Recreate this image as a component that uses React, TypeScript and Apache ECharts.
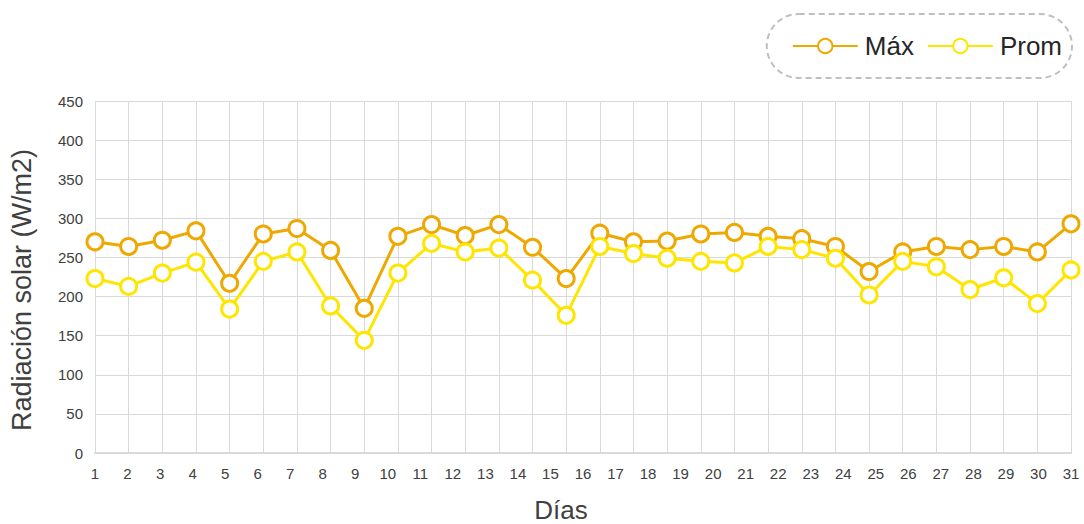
import React, { useEffect, useRef } from "react";
import * as echarts from "echarts";

const dayLabels = [
  "1", "2", "3", "4", "5", "6", "7", "8", "9", "10", "11", "12", "13", "14", "15", "16",
  "17", "18", "19", "20", "21", "22", "23", "24", "25", "26", "27", "28", "29", "30", "31",
];
const pointSlots = [
  "p1", "p2", "p3", "p4", "p5", "p6", "p7", "p8", "p9", "p10", "p11", "p12", "p13", "p14", "p15",
  "p16", "p17", "p18", "p19", "p20", "p21", "p22", "p23", "p24", "p25", "p26", "p27", "p28", "p29", "p30",
];
const maxValues = [
  270, 264, 272, 284, 217, 280, 287, 259, 185, 277, 292, 278, 292, 263, 223,
  281, 270, 271, 280, 282, 277, 274, 264, 232, 257, 264, 260, 264, 257, 293,
];
const avgValues = [
  223, 213, 230, 244, 184, 245, 257, 188, 144, 230, 268, 257, 262, 221, 176,
  264, 255, 249, 245, 243, 264, 260, 249, 202, 245, 238, 209, 224, 191, 234,
];
const seriesNames = ["Máx", "Prom"];
const yTicks = { min: 0, max: 450, interval: 50 };

const FONT = "'Liberation Sans', Arial, sans-serif";
const TEXT = "#404040";
const GRID = "#d9d9d9";
const COLORS = ["#EEA800", "#FFE500"];

export default function App() {
  const ref = useRef<HTMLDivElement>(null);
  useEffect(() => {
    document.body.style.margin = "0";
    const chart = echarts.init(ref.current!, null, { renderer: "svg" });
    const mkSeries = (name: string, data: number[], color: string) => ({
      name,
      type: "line",
      xAxisIndex: 0,
      data,
      symbol: "circle",
      symbolSize: 16,
      showSymbol: true,
      lineStyle: { color, width: 3 },
      itemStyle: { color: "#ffffff", borderColor: color, borderWidth: 3 },
      emphasis: { disabled: true },
      z: 3,
    });
    chart.setOption({
      animation: false,
      textStyle: { fontFamily: FONT },
      grid: { left: 95, right: 13, top: 101, bottom: 71, containLabel: false, outerBoundsMode: "none" },
      legend: {
        right: 12,
        top: 14,
        data: seriesNames,
        itemWidth: 65,
        itemHeight: 18,
        itemGap: 13,
        padding: [19, 10, 19, 25],
        borderColor: "#bfbfbf",
        borderWidth: 2,
        borderType: [6, 4],
        borderRadius: 32,
        textStyle: { fontFamily: FONT, fontSize: 26, color: "#262626", padding: [0, 0, 0, 2] },
      },
      xAxis: [
        {
          type: "category",
          data: pointSlots,
          boundaryGap: false,
          axisLine: { show: true, lineStyle: { color: GRID, width: 2 } },
          axisTick: { show: false },
          axisLabel: { show: false },
          splitLine: { show: true, lineStyle: { color: GRID, width: 1 } },
        },
        {
          type: "category",
          data: dayLabels,
          boundaryGap: false,
          position: "bottom",
          axisLine: { show: false },
          axisTick: { show: false },
          splitLine: { show: false },
          axisLabel: { show: true, interval: 0, color: TEXT, fontSize: 15, fontFamily: FONT, margin: 13 },
          name: "Días",
          nameLocation: "middle",
          nameGap: 45,
          nameTextStyle: { fontSize: 26, lineHeight: 24, color: TEXT, fontFamily: FONT, padding: [0, 44, 0, 0] },
        },
      ],
      yAxis: {
        type: "value",
        min: yTicks.min,
        max: yTicks.max,
        interval: yTicks.interval,
        axisLine: { show: false },
        axisTick: { show: false },
        splitLine: { show: true, lineStyle: { color: GRID, width: 1 } },
        axisLabel: { color: TEXT, fontSize: 15, fontFamily: FONT, margin: 12 },
        name: "Radiación solar (W/m2)",
        nameLocation: "middle",
        nameGap: 60,
        nameTextStyle: { fontSize: 27, color: TEXT, fontFamily: FONT, padding: [0, 26, 0, 0] },
      },
      series: [
        mkSeries(seriesNames[0], maxValues, COLORS[0]),
        mkSeries(seriesNames[1], avgValues, COLORS[1]),
      ],
    });
    return () => chart.dispose();
  }, []);
  return <div ref={ref} style={{ width: 1084, height: 524 }} />;
}
